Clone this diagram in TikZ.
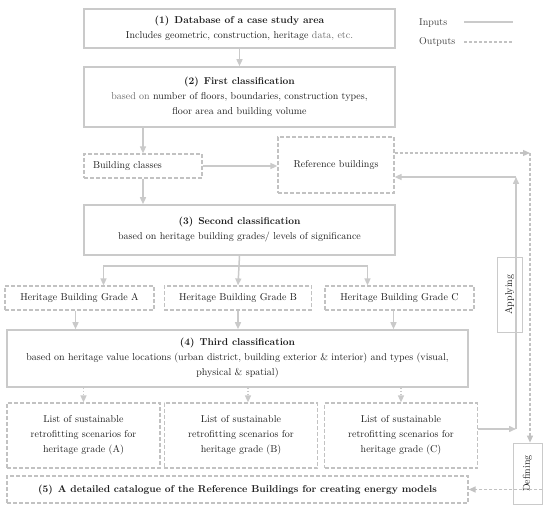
\documentclass[tikz,border=0pt]{standalone}
\usetikzlibrary{arrows.meta,positioning,calc}
\definecolor{Ink}{HTML}{1E1E1E}
\definecolor{Muted}{HTML}{6A6A6A}
\definecolor{Rule}{HTML}{CACACA}
\definecolor{Dash}{HTML}{C2C2C2}
\tikzset{box/.style={draw=Rule,line width=1.6pt,align=center,inner sep=3pt,
    font=\fontsize{10}{15}\selectfont,text=Ink},
  dashbox/.style={box,draw=Dash,line width=1.2pt,dash pattern=on 4pt off 2pt},
  sidebox/.style={draw=Rule,line width=0.8pt,fill=white,rotate=90,inner sep=2pt,
    font=\fontsize{10}{12}\selectfont,text=Ink},
  legend/.style={font=\fontsize{10}{12}\selectfont,text=Ink!85,inner sep=0pt},
  edge/.style={-{Triangle[length=7pt,width=6pt]},line width=1.5pt,draw=Rule},
  plainedge/.style={line width=1.5pt,draw=Rule},
  outedge/.style={edge,draw=Dash,line width=1.2pt,dash pattern=on 3pt off 2pt},
  dotedge/.style={edge,dash pattern=on 1.5pt off 1.5pt}}

\begin{document}
\begin{tikzpicture}[x=1pt,y=-1pt]
    \useasboundingbox (0,0) rectangle (550,508);
    \node[box,minimum width=311,minimum height=39] (db) at (239.5,28.5) {\textbf{(1)\enspace Database of a case study area}\\Includes geometric, construction, heritage {\color{Muted}data, etc.}};
    \node[box,minimum width=311,minimum height=60] (first) at (239.5,97) {\textbf{(2)\enspace First classification}\\{\color{Muted}based on} number of floors, boundaries, construction types,\\floor area and building volume};
    \node[dashbox,text width=100,align=left,inner xsep=9pt,minimum height=24] (bclass) at (143,166) {Building classes};
    \node[dashbox,minimum width=116,minimum height=56] (refb) at (336,165) {Reference buildings};
    \node[box,minimum width=311,minimum height=50] (second) at (239.5,230) {\textbf{(3)\enspace Second classification}\\based on heritage building grades/ levels of significance};
    \node[dashbox,minimum width=149,minimum height=24] (gradeA) at (79.5,298) {Heritage Building Grade A};
    \node[dashbox,minimum width=147.5,minimum height=24] (gradeB) at (238,298) {Heritage Building Grade B};
    \node[dashbox,minimum width=149,minimum height=24] (gradeC) at (399.5,298) {Heritage Building Grade C};
    \node[box,minimum width=461,minimum height=57] (third) at (237.5,358.5) {\textbf{(4)\enspace Third classification}\\based on heritage value locations (urban district, building exterior \& interior) and types (visual,\\physical \& spatial)};
    \node[dashbox,minimum width=153,minimum height=65] (listA) at (83.5,435.5) {List of sustainable\\retrofitting scenarios for\\heritage grade (A)};
    \node[dashbox,minimum width=153.5,minimum height=65] (listB) at (241,435.5) {List of sustainable\\retrofitting scenarios for\\heritage grade (B)};
    \node[dashbox,minimum width=152.5,minimum height=65] (listC) at (401,435.5) {List of sustainable\\retrofitting scenarios for\\heritage grade (C)};
    \node[dashbox,minimum width=461,minimum height=27] (catalog) at (237.5,489.5) {\textbf{(5)\enspace A detailed catalogue of the Reference Buildings for creating energy models}};
    \node[sidebox,minimum width=75,minimum height=25] (applying) at (509.5,294.5) {Applying};
    \node[sidebox,minimum width=61,minimum height=29] (defining) at (527.5,473.5) {Defining};
    \node[legend,anchor=west] (inlab) at (419,23) {Inputs};
    \node[legend,anchor=west] (outlab) at (419,42) {Outputs};
    \coordinate (ina) at (464,22); \coordinate (inb) at (513,22);
    \coordinate (outa) at (464,42); \coordinate (outb) at (513,42);
    \coordinate (split) at (235,266);
    \coordinate (junction) at (516,429);
    \coordinate (turnup) at (516,177);
    \coordinate (outcorner) at (530,153);
    \draw[plainedge] (ina) -- (inb);
    \draw[plainedge,draw=Dash,line width=1.2pt,dash pattern=on 3pt off 2pt] (outa) -- (outb);
    \draw[edge] (db.south) -- (first.north);
    \draw[edge] (bclass.north |- first.south) -- (bclass.north);
    \draw[edge] (bclass.east) -- (bclass.east -| refb.west);
    \draw[edge] (bclass.south) -- (bclass.south |- second.north);
    \draw[edge] (second.south) -- (gradeB.north);
    \draw[edge] (second.south) |- (split) -| ([xshift=24pt]gradeA.north);
    \draw[edge] (second.south) |- (split) -| ([xshift=-32pt]gradeC.north);
    \draw[edge] ([xshift=-4pt]gradeA.south) -- ([xshift=-4pt]gradeA.south |- third.north);
    \draw[edge] (gradeB.south) -- (gradeB.south |- third.north);
    \draw[edge] ([xshift=-6pt]gradeC.south) -- ([xshift=-6pt]gradeC.south |- third.north);
    \draw[dotedge] (listA.north |- third.south) -- (listA.north);
    \draw[dotedge] ([xshift=7pt]listB.north |- third.south) -- ([xshift=7pt]listB.north);
    \draw[dotedge] (listC.north |- third.south) -- (listC.north);
    \draw[edge] (listC.east |- junction) -- (junction);
    \draw[plainedge] (junction) -- (junction |- applying.east);
    \draw[edge] (junction |- applying.west) -- (turnup);
    \draw[edge] (turnup) -- (refb.east |- turnup);
    \draw[outedge] (refb.east |- outcorner) -- (outcorner);
    \draw[outedge] (outcorner) -- (outcorner |- defining.east);
    \draw[outedge] (defining.south |- catalog.east) -- (catalog.east);
  \end{tikzpicture}
\end{document}
